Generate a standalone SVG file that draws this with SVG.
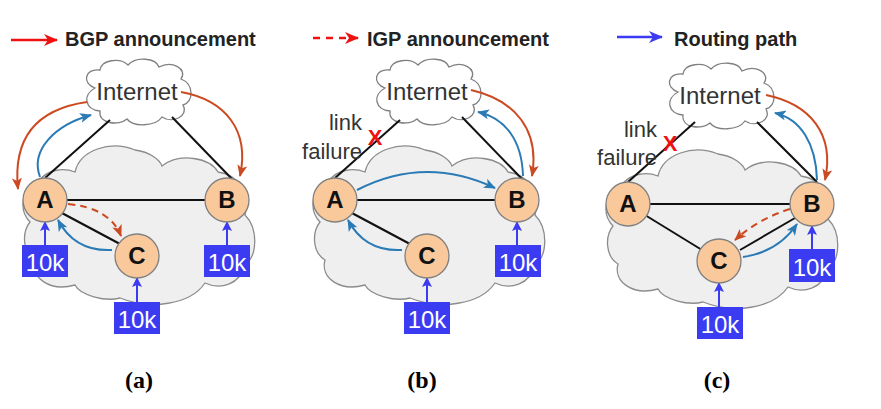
<svg xmlns="http://www.w3.org/2000/svg" width="881" height="409" viewBox="0 0 881 409">
<style>
.leg{font-family:"Liberation Sans",Arial,sans-serif;font-weight:bold;font-size:20px;fill:#222}
.cap{font-family:"Liberation Serif","Times New Roman",serif;font-weight:bold;font-size:24px;fill:#000}
.inet{font-family:"Liberation Sans",Arial,sans-serif;font-size:24px;fill:#333}
.lf{font-family:"Liberation Sans",Arial,sans-serif;font-size:22px;fill:#333}
.grey{fill:#efefef;stroke:#8c8c8c;stroke-width:1.3}
.wcloud{fill:#fff;stroke:#808080;stroke-width:1.3}
.node circle{fill:#f9c89b;stroke:#808080;stroke-width:1.3}
.node text{font-family:"Liberation Sans",Arial,sans-serif;font-weight:bold;font-size:24px;fill:#111;text-anchor:middle}
.box rect{fill:#3b3bf2}
.box text{font-family:"Liberation Sans",Arial,sans-serif;font-size:24px;fill:#fff;text-anchor:middle}
.ln{stroke:#111;stroke-width:2;fill:none}
.bgp{stroke:#cc4a22;stroke-width:2;fill:none;marker-end:url(#mBgp)}
.igp{stroke:#cc4a22;stroke-width:2;fill:none;stroke-dasharray:7 5;marker-end:url(#mBgp)}
.rt{stroke:#2a7bb5;stroke-width:2;fill:none;marker-end:url(#mBlue)}
.ten{stroke:#3b3bf2;stroke-width:2;fill:none;marker-end:url(#mTen)}
.x{font-family:"Liberation Sans",Arial,sans-serif;font-weight:bold;font-size:22px;fill:#ee1111;text-anchor:middle}
</style>
<defs>
<marker id="mRed" markerUnits="userSpaceOnUse" markerWidth="14" markerHeight="12" refX="13" refY="6" orient="auto"><path d="M0,0 L14,6 L0,12 L4,6 Z" fill="#ee1111"/></marker>
<marker id="mLegBlue" markerUnits="userSpaceOnUse" markerWidth="14" markerHeight="12" refX="13" refY="6" orient="auto"><path d="M0,0 L14,6 L0,12 L4,6 Z" fill="#3b3bf2"/></marker>
<marker id="mBgp" markerUnits="userSpaceOnUse" markerWidth="12" markerHeight="10" refX="11" refY="5" orient="auto"><path d="M0,0 L12,5 L0,10 L3,5 Z" fill="#cc4a22"/></marker>
<marker id="mBlue" markerUnits="userSpaceOnUse" markerWidth="12" markerHeight="10" refX="11" refY="5" orient="auto"><path d="M0,0 L12,5 L0,10 L3,5 Z" fill="#2a7bb5"/></marker>
<marker id="mTen" markerUnits="userSpaceOnUse" markerWidth="10" markerHeight="10" refX="9" refY="5" orient="auto"><path d="M0,0 L10,5 L0,10 L2,5 Z" fill="#3b3bf2"/></marker>
<path id="greyCloud" d="M30,222 C18,210 22,188 38,182 C48,168 65,168 75,172 C80,150 110,140 135,150 C150,152 160,160 162,166 C180,152 210,158 218,172 C240,175 250,195 245,215 C258,228 258,255 245,265 C240,285 220,290 205,283 C190,305 150,310 120,298 C105,302 80,295 75,285 C50,292 30,278 35,260 C22,252 22,232 30,222 Z"/>
<path id="netCloud" d="M95,88 C82,84 84,68 100,70 C101,60 120,57 128,65 C136,56 156,58 159,67 C172,60 188,69 181,79 C194,84 194,102 183,105 C189,116 173,124 162,117 C155,127 133,127 127,119 C119,126 98,124 100,111 C85,110 82,95 95,88 Z"/>
</defs>
<rect width="881" height="409" fill="#fff"/>

<g id="legend">
<line x1="11" y1="40" x2="57" y2="40" stroke="#ee1111" stroke-width="2.5" marker-end="url(#mRed)"/>
<text class="leg" x="65" y="46">BGP announcement</text>
<line x1="313" y1="38" x2="358" y2="38" stroke="#ee1111" stroke-width="2.5" stroke-dasharray="7 6" marker-end="url(#mRed)"/>
<text class="leg" x="367" y="46">IGP announcement</text>
<line x1="617" y1="37" x2="662" y2="37" stroke="#3b3bf2" stroke-width="2.5" marker-end="url(#mLegBlue)"/>
<text class="leg" x="674" y="46">Routing path</text>
</g>

<!-- Panel (a) -->
<g id="panel-a">
<use href="#greyCloud" class="grey"/>
<g id="a-internet"><use href="#netCloud" class="wcloud"/><text class="inet" x="137" y="100" text-anchor="middle">Internet</text></g>
<g id="a-connectors">
<line class="ln" x1="45" y1="178" x2="110" y2="120"/>
<line class="ln" x1="232" y1="179" x2="172" y2="117"/>
<line class="ln" x1="45" y1="200" x2="227" y2="200"/>
<line class="ln" x1="60" y1="212" x2="120" y2="244"/>
<path class="bgp" d="M87,102 C45,108 12,130 18,189"/>
<path class="rt" d="M40,177 C30,150 55,125 91,115"/>
<path class="bgp" d="M181,92 C225,100 250,130 240,176"/>
<path class="igp" d="M68,204 Q110,208 121,236"/>
<path class="rt" d="M112,250 Q75,252 58,220"/>
<line class="ten" x1="45" y1="245" x2="45" y2="222"/>
<line class="ten" x1="227" y1="245" x2="227" y2="222"/>
<line class="ten" x1="137" y1="302" x2="137" y2="278"/>
</g>
<g id="a-A" class="node"><circle cx="45" cy="200" r="22"/><text x="45" y="208">A</text></g>
<g id="a-B" class="node"><circle cx="227" cy="200" r="22"/><text x="227" y="208">B</text></g>
<g id="a-C" class="node"><circle cx="137" cy="256" r="22"/><text x="137" y="264">C</text></g>
<g id="a-10kA" class="box"><rect x="22" y="245" width="46" height="32"/><text x="45" y="271">10k</text></g>
<g id="a-10kB" class="box"><rect x="204" y="245" width="46" height="32"/><text x="227" y="271">10k</text></g>
<g id="a-10kC" class="box"><rect x="114" y="302" width="46" height="32"/><text x="137" y="328">10k</text></g>
<text class="cap" x="139" y="388" text-anchor="middle">(a)</text>
</g>

<!-- Panel (b) -->
<g id="panel-b" transform="translate(290,0)">
<use href="#greyCloud" class="grey"/>
<g id="b-internet"><use href="#netCloud" class="wcloud"/><text class="inet" x="137" y="100" text-anchor="middle">Internet</text></g>
<g id="b-connectors">
<line class="ln" x1="45" y1="178" x2="110" y2="120"/>
<line class="ln" x1="232" y1="179" x2="172" y2="117"/>
<line class="ln" x1="45" y1="200" x2="227" y2="200"/>
<line class="ln" x1="60" y1="212" x2="120" y2="244"/>
<path class="bgp" d="M181,90 C225,100 250,130 242,176"/>
<path class="rt" d="M233,176 C232,140 215,118 188,112"/>
<path class="rt" d="M67,190 Q135,155 205,188"/>
<path class="rt" d="M112,250 Q75,252 58,220"/>
<line class="ten" x1="227" y1="245" x2="227" y2="222"/>
<line class="ten" x1="137" y1="302" x2="137" y2="278"/>
</g>
<g id="b-A" class="node"><circle cx="45" cy="200" r="22"/><text x="45" y="208">A</text></g>
<g id="b-B" class="node"><circle cx="227" cy="200" r="22"/><text x="227" y="208">B</text></g>
<g id="b-C" class="node"><circle cx="137" cy="256" r="22"/><text x="137" y="264">C</text></g>
<g id="b-10kB" class="box"><rect x="205" y="245" width="46" height="32"/><text x="228" y="271">10k</text></g>
<g id="b-10kC" class="box"><rect x="114" y="302" width="46" height="32"/><text x="137" y="328">10k</text></g>
<g id="b-failure">
<text class="lf" x="72" y="130" text-anchor="end">link</text>
<text class="lf" x="72" y="159" text-anchor="end">failure</text>
<text class="x" x="85" y="145">X</text>
</g>
<text class="cap" x="132" y="388" text-anchor="middle">(b)</text>
</g>

<!-- Panel (c) -->
<g id="panel-c" transform="translate(583,4)">
<use href="#greyCloud" class="grey"/>
<g id="c-internet"><use href="#netCloud" class="wcloud"/><text class="inet" x="137" y="100" text-anchor="middle">Internet</text></g>
<g id="c-connectors">
<line class="ln" x1="45" y1="178" x2="112" y2="118"/>
<line class="ln" x1="234" y1="178" x2="174" y2="118"/>
<line class="ln" x1="45" y1="200" x2="229" y2="200"/>
<line class="ln" x1="62" y1="211" x2="119" y2="246"/>
<line class="ln" x1="157" y1="246" x2="212" y2="214"/>
<path class="bgp" d="M183,91 C227,100 252,130 242,176"/>
<path class="rt" d="M234,176 C233,140 218,115 192,109"/>
<path class="igp" d="M207,205 Q175,215 152,236"/>
<path class="rt" d="M160,253 Q195,248 214,220"/>
<line class="ten" x1="229" y1="245" x2="229" y2="222"/>
<line class="ten" x1="136" y1="303" x2="136" y2="279"/>
</g>
<g id="c-A" class="node"><circle cx="45" cy="200" r="22"/><text x="45" y="208">A</text></g>
<g id="c-B" class="node"><circle cx="229" cy="200" r="22"/><text x="229" y="208">B</text></g>
<g id="c-C" class="node"><circle cx="136" cy="257" r="22"/><text x="136" y="265">C</text></g>
<g id="c-10kB" class="box"><rect x="206" y="245" width="46" height="33"/><text x="229" y="272">10k</text></g>
<g id="c-10kC" class="box"><rect x="114" y="303" width="46" height="32"/><text x="137" y="329">10k</text></g>
<g id="c-failure">
<text class="lf" x="74" y="133" text-anchor="end">link</text>
<text class="lf" x="74" y="161" text-anchor="end">failure</text>
<text class="x" x="87" y="147">X</text>
</g>
<text class="cap" x="134" y="384" text-anchor="middle">(c)</text>
</g>
</svg>
